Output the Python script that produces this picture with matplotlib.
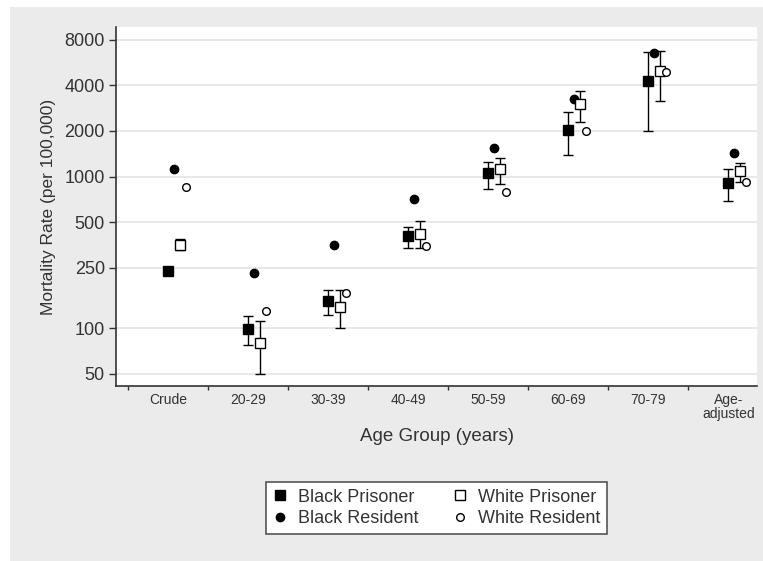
import matplotlib
matplotlib.use("Agg")
import matplotlib.pyplot as plt
import numpy as np
from matplotlib.patches import Rectangle
from matplotlib.ticker import FixedLocator, NullFormatter

plt.rcParams['font.family'] = ['Liberation Sans', 'DejaVu Sans']

categories = ["Crude", "20-29", "30-39", "40-49", "50-59", "60-69", "70-79", "Age-\nadjusted"]

black_prisoner = [240, 99, 152, 405, 1050, 2020, 4270, 912]
black_prisoner_lo = [232, 78, 123, 340, 832, 1390, 1990, 690]
black_prisoner_hi = [249, 120, 180, 462, 1240, 2670, 6600, 1117]

white_prisoner = [355, 80.5, 139, 420, 1122, 2990, 4970, 1083]
white_prisoner_lo = [326, 50, 101, 340, 893, 2295, 3160, 920]
white_prisoner_hi = [390, 111, 180, 508, 1326, 3680, 6700, 1237]

black_resident = [1130, 233, 353, 714, 1544, 3243, 6530, 1440]
white_resident = [853, 130, 172, 347, 791, 2013, 4870, 916]

yticks = [50, 100, 250, 500, 1000, 2000, 4000, 8000]

TXT = '#333333'

fig = plt.figure(figsize=(7.63, 5.61), dpi=100, facecolor='white')
fig.patches.append(Rectangle((10/763, 0), 1, (561-7)/561, transform=fig.transFigure,
                             facecolor='#ebebeb', edgecolor='none', zorder=-10))

ax = fig.add_axes([116/763, 1-386/561, (757-116)/763, (386-27)/561])
ax.set_facecolor('white')

x = np.arange(len(categories))
off_bp, off_br, off_wp, off_wr = 0.0, 0.07, 0.15, 0.22

def err(v, lo, hi):
    v = np.array(v, float)
    return np.vstack([v - np.array(lo, float), np.array(hi, float) - v])

ax.errorbar(x + off_bp, black_prisoner, yerr=err(black_prisoner, black_prisoner_lo, black_prisoner_hi),
            fmt='none', ecolor='black', elinewidth=1, capsize=3.5, capthick=1, zorder=3)
ax.errorbar(x + off_wp, white_prisoner, yerr=err(white_prisoner, white_prisoner_lo, white_prisoner_hi),
            fmt='none', ecolor='black', elinewidth=1, capsize=3.5, capthick=1, zorder=3)

h_bp, = ax.plot(x + off_bp, black_prisoner, 's', ms=7, mfc='black', mec='black', mew=1, ls='none', zorder=4, label='Black Prisoner')
h_br, = ax.plot(x + off_br, black_resident, 'o', ms=6, mfc='black', mec='black', mew=1, ls='none', zorder=5, label='Black Resident')
h_wp, = ax.plot(x + off_wp, white_prisoner, 's', ms=7, mfc='white', mec='black', mew=1, ls='none', zorder=6, label='White Prisoner')
h_wr, = ax.plot(x + off_wr, white_resident, 'o', ms=5.5, mfc='white', mec='black', mew=1, ls='none', zorder=7, label='White Resident')

ax.set_yscale('log')
ax.set_ylim(41.6, 9700)
ax.set_xlim(-0.65, 7.36)
ax.yaxis.set_major_locator(FixedLocator(yticks))
ax.yaxis.set_minor_locator(FixedLocator([]))
ax.set_yticklabels([str(t) for t in yticks])
ax.yaxis.set_minor_formatter(NullFormatter())

ax.set_xticks(x)
ax.set_xticklabels(categories, fontsize=10, color=TXT, linespacing=1.0)
ax.xaxis.set_minor_locator(FixedLocator(x - 0.5))
ax.tick_params(axis='x', which='major', length=0, pad=5)
ax.tick_params(axis='x', which='minor', length=3, width=1, color='#333333', direction='out')
ax.tick_params(axis='y', which='major', length=5, width=1, color='#333333', labelsize=13, labelcolor=TXT, pad=3)

ax.grid(axis='y', which='major', color='#e4e4e4', linewidth=1.2, zorder=0)
ax.set_axisbelow(True)

for s in ['top', 'right']:
    ax.spines[s].set_visible(False)
for s in ['left', 'bottom']:
    ax.spines[s].set_color('#333333')
    ax.spines[s].set_linewidth(1.2)

ax.set_xlabel('Age Group (years)', fontsize=13.5, color=TXT, labelpad=5)
ax.set_ylabel('Mortality Rate (per 100,000)', fontsize=12.5, color=TXT, labelpad=6)

leg = fig.legend(handles=[h_bp, h_br, h_wp, h_wr], loc='center', bbox_to_anchor=(436.5/763, 1-508/561),
                 ncol=2, fontsize=13, frameon=True, fancybox=False, framealpha=1,
                 edgecolor='#555555', facecolor='white', handlelength=0.8, handletextpad=0.6,
                 columnspacing=1.9, borderpad=0.35, labelspacing=0.25, borderaxespad=0)
leg.get_frame().set_linewidth(1.2)
for t in leg.get_texts():
    t.set_color(TXT)

fig.savefig('out.png', dpi=100, facecolor=fig.get_facecolor())
